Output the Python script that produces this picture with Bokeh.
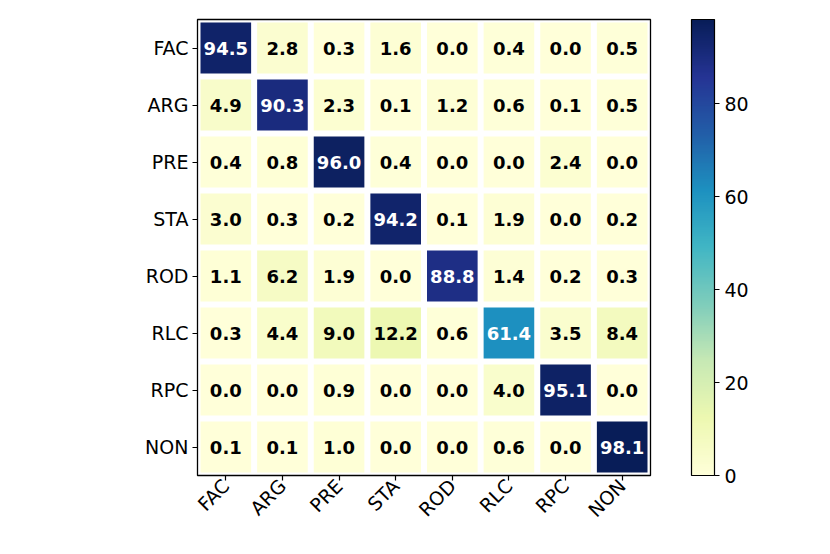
import numpy as np
from bokeh.plotting import figure
from bokeh.models import ColumnDataSource, LinearColorMapper, ColorBar, FixedTicker, FactorRange
from bokeh.core.properties import value
from bokeh.embed import file_html
from bokeh.resources import INLINE

labels = ["FAC", "ARG", "PRE", "STA", "ROD", "RLC", "RPC", "NON"]
row_FAC = [94.5, 2.8, 0.3, 1.6, 0.0, 0.4, 0.0, 0.5]
row_ARG = [4.9, 90.3, 2.3, 0.1, 1.2, 0.6, 0.1, 0.5]
row_PRE = [0.4, 0.8, 96.0, 0.4, 0.0, 0.0, 2.4, 0.0]
row_STA = [3.0, 0.3, 0.2, 94.2, 0.1, 1.9, 0.0, 0.2]
row_ROD = [1.1, 6.2, 1.9, 0.0, 88.8, 1.4, 0.2, 0.3]
row_RLC = [0.3, 4.4, 9.0, 12.2, 0.6, 61.4, 3.5, 8.4]
row_RPC = [0.0, 0.0, 0.9, 0.0, 0.0, 4.0, 95.1, 0.0]
row_NON = [0.1, 0.1, 1.0, 0.0, 0.0, 0.6, 0.0, 98.1]
rows = [row_FAC, row_ARG, row_PRE, row_STA, row_ROD, row_RLC, row_RPC, row_NON]
cbar_ticks = [0, 20, 40, 60, 80]

# YlGnBu colormap (ColorBrewer 9-class), interpolated to 256 levels
ylgnbu = [
    (1.0, 1.0, 0.8510), (0.9294, 0.9725, 0.6941), (0.7804, 0.9137, 0.7059),
    (0.4980, 0.8039, 0.7333), (0.2549, 0.7137, 0.7686), (0.1137, 0.5686, 0.7529),
    (0.1333, 0.3686, 0.6588), (0.1451, 0.2039, 0.5804), (0.0314, 0.1137, 0.3451),
]
arr = np.array(ylgnbu)
xs = np.linspace(0, 1, len(arr))
t = np.linspace(0, 1, 256)
palette = []
for v in t:
    r, g, b = (np.interp(v, xs, arr[:, k]) for k in range(3))
    palette.append("#%02x%02x%02x" % (int(round(r * 255)), int(round(g * 255)), int(round(b * 255))))

vmax = max(max(r) for r in rows)
xcol, ycol, vals, txt, tcol = [], [], [], [], []
for i, r in enumerate(rows):
    for j, v in enumerate(r):
        xcol.append(labels[j])
        ycol.append(labels[i])
        vals.append(v)
        txt.append("%.1f" % v)
        tcol.append("white" if v > vmax / 2 else "black")
src = ColumnDataSource(dict(x=xcol, y=ycol, v=vals, t=txt, c=tcol))

mapper = LinearColorMapper(palette=palette, low=0, high=vmax)

p = figure(x_range=FactorRange(*labels), y_range=FactorRange(*labels[::-1]),
           frame_width=453, frame_height=456, min_border_left=197, min_border_top=19,
           min_border_bottom=70, min_border_right=10,
           output_backend="svg", toolbar_location=None, tools="")
p.rect(x="x", y="y", width=0.894, height=0.894, source=src,
       fill_color={"field": "v", "transform": mapper}, line_color=None)
p.text(x="x", y="y", text="t", source=src, text_color="c", text_align="center",
       text_baseline="middle", text_font=value("DejaVu Sans"), text_font_style="bold",
       text_font_size="18px")

p.grid.visible = False
p.outline_line_color = "black"
p.outline_line_width = 1.3
for ax in (p.xaxis, p.yaxis):
    ax.axis_line_color = None
    ax.major_tick_line_color = "black"
    ax.major_tick_line_width = 1.2
    ax.major_tick_out = 5
    ax.major_tick_in = 0
    ax.minor_tick_line_color = None
    ax.major_label_text_font = "DejaVu Sans"
    ax.major_label_text_font_size = "19px"
    ax.major_label_text_color = "black"
    ax.major_label_standoff = 4
p.xaxis.major_label_orientation = np.pi / 4
p.xaxis.major_label_standoff = 2

cb = ColorBar(color_mapper=mapper, ticker=FixedTicker(ticks=cbar_ticks), width=23, height=456,
              margin=0, padding=0, location=(41, 0),
              bar_line_color="black", bar_line_width=1.2,
              major_tick_line_color="black", major_tick_out=5, major_tick_in=0,
              minor_tick_line_color=None,
              major_label_text_font="DejaVu Sans", major_label_text_font_size="19px",
              major_label_text_color="black", label_standoff=5,
              background_fill_color=None, border_line_color=None)
p.add_layout(cb, "right")

open("out.html", "w").write(file_html(p, INLINE))
